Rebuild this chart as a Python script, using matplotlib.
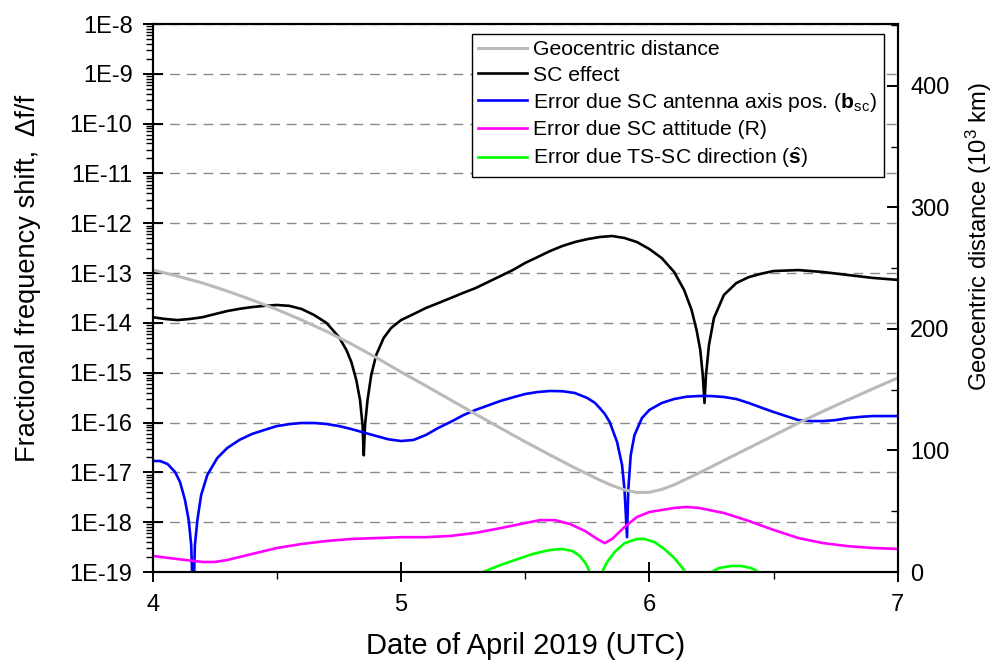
import numpy as np
import matplotlib
matplotlib.use('Agg')
import matplotlib.pyplot as plt
from matplotlib.ticker import FixedLocator, NullFormatter, FuncFormatter
from matplotlib.lines import Line2D

plt.rcParams['font.family'] = ['Liberation Sans', 'DejaVu Sans']
plt.rcParams['mathtext.fontset'] = 'custom'
plt.rcParams['mathtext.rm'] = 'Liberation Sans'
plt.rcParams['mathtext.it'] = 'Liberation Sans:italic'
plt.rcParams['mathtext.bf'] = 'Liberation Sans:bold'

# ---------------- data ----------------
# Geocentric distance (10^3 km), right axis
dist_x = [4.0, 4.1, 4.2, 4.3, 4.4, 4.5, 4.6, 4.7, 4.8, 4.9, 5.0, 5.1, 5.2, 5.3, 5.4,
          5.5, 5.6, 5.7, 5.8, 5.85, 5.9, 5.95, 6.0, 6.05, 6.1, 6.2, 6.3, 6.4, 6.5,
          6.6, 6.7, 6.8, 6.9, 7.0]
dist_y = [248.6, 243.5, 237.9, 231.2, 223.9, 216.0, 207.4, 198.0, 187.7, 176.5, 164.6,
          153.2, 141.6, 130.0, 118.5, 107.2, 96.3, 85.7, 75.7, 71.2, 67.6, 65.4, 65.6,
          68.0, 71.8, 81.5, 91.8, 102.0, 112.3, 122.6, 132.3, 141.6, 150.8, 159.7]

# SC effect
sc_x = [4.00, 4.05, 4.10, 4.15, 4.20, 4.25, 4.30, 4.35, 4.40, 4.45, 4.50, 4.55, 4.60,
        4.65, 4.70, 4.75, 4.78, 4.80, 4.82, 4.835, 4.845, 4.85, 4.855, 4.865, 4.88,
        4.90, 4.93, 4.96, 5.00, 5.05, 5.10, 5.15, 5.20, 5.25, 5.30, 5.35, 5.40, 5.45,
        5.50, 5.55, 5.60, 5.65, 5.70, 5.75, 5.80, 5.85, 5.90, 5.95, 6.00, 6.05, 6.10,
        6.14, 6.17, 6.19, 6.205, 6.215, 6.222, 6.228, 6.24, 6.26, 6.30, 6.35, 6.40,
        6.45, 6.50, 6.60, 6.70, 6.80, 6.90, 7.00]
sc_y = [1.3e-14, 1.2e-14, 1.14e-14, 1.2e-14, 1.3e-14, 1.5e-14, 1.73e-14, 1.92e-14,
        2.08e-14, 2.2e-14, 2.29e-14, 2.2e-14, 1.9e-14, 1.44e-14, 1.0e-14, 5.2e-15,
        2.86e-15, 1.64e-15, 7.1e-16, 2.8e-16, 8.9e-17, 2.2e-17, 8.9e-17, 2.8e-16,
        9.0e-16, 2.27e-15, 4.98e-15, 7.9e-15, 1.14e-14, 1.5e-14, 1.99e-14, 2.5e-14,
        3.16e-14, 4.0e-14, 5.0e-14, 6.6e-14, 8.7e-14, 1.15e-13, 1.6e-13, 2.1e-13,
        2.77e-13, 3.5e-13, 4.2e-13, 4.8e-13, 5.3e-13, 5.55e-13, 5.06e-13, 4.2e-13,
        3.04e-13, 2.0e-13, 1.05e-13, 4.57e-14, 1.82e-14, 7.2e-15, 2.86e-15, 9.0e-16,
        2.47e-16, 9.0e-16, 3.6e-15, 1.25e-14, 3.63e-14, 6.3e-14, 8.3e-14, 9.7e-14,
        1.1e-13, 1.15e-13, 1.05e-13, 9.15e-14, 8.0e-14, 7.3e-14]

# Error due SC antenna axis position
ant_x = [4.00, 4.03, 4.06, 4.09, 4.11, 4.13, 4.145, 4.155, 4.163, 4.17, 4.18, 4.195,
         4.22, 4.26, 4.30, 4.35, 4.40, 4.45, 4.50, 4.55, 4.60, 4.65, 4.70, 4.75, 4.80,
         4.85, 4.90, 4.95, 5.00, 5.05, 5.10, 5.15, 5.20, 5.25, 5.30, 5.35, 5.40, 5.45,
         5.50, 5.55, 5.60, 5.65, 5.70, 5.75, 5.78, 5.80, 5.82, 5.84, 5.87, 5.89, 5.90,
         5.91, 5.915, 5.925, 5.94, 5.97, 6.00, 6.05, 6.10, 6.15, 6.20, 6.25, 6.30, 6.35,
         6.40, 6.45, 6.50, 6.55, 6.60, 6.65, 6.70, 6.75, 6.80, 6.85, 6.90, 7.00]
ant_y = [1.69e-17, 1.69e-17, 1.47e-17, 1.02e-17, 6.4e-18, 2.79e-18, 1.1e-18, 3.5e-19,
         2e-20, 3.5e-19, 1.1e-18, 3.5e-18, 8.9e-18, 1.94e-17, 3.08e-17, 4.5e-17, 5.9e-17,
         7.1e-17, 8.5e-17, 9.3e-17, 9.8e-17, 9.8e-17, 9.35e-17, 8.5e-17, 7.4e-17,
         6.3e-17, 5.37e-17, 4.6e-17, 4.26e-17, 4.47e-17, 5.62e-17, 7.8e-17, 1.03e-16,
         1.4e-16, 1.79e-16, 2.2e-16, 2.71e-16, 3.2e-16, 3.74e-16, 4.1e-16, 4.3e-16,
         4.25e-16, 3.92e-16, 3.11e-16, 2.5e-16, 1.96e-16, 1.5e-16, 1.03e-16, 4.07e-17,
         1.41e-17, 4.43e-18, 5.0e-19, 4.4e-18, 2.23e-17, 5.6e-17, 1.23e-16, 1.79e-16,
         2.47e-16, 2.97e-16, 3.3e-16, 3.41e-16, 3.4e-16, 3.26e-16, 2.97e-16, 2.47e-16,
         2.0e-16, 1.63e-16, 1.35e-16, 1.12e-16, 1.07e-16, 1.07e-16, 1.12e-16, 1.23e-16,
         1.3e-16, 1.35e-16, 1.35e-16]

# Error due SC attitude
att_x = [4.00, 4.10, 4.20, 4.25, 4.30, 4.40, 4.50, 4.60, 4.70, 4.80, 4.90, 5.00, 5.10,
         5.20, 5.30, 5.40, 5.50, 5.56, 5.62, 5.68, 5.74, 5.79, 5.82, 5.85, 5.90, 5.95,
         6.00, 6.10, 6.15, 6.20, 6.30, 6.40, 6.50, 6.60, 6.70, 6.80, 6.90, 7.00]
att_y = [2.1e-19, 1.82e-19, 1.59e-19, 1.59e-19, 1.74e-19, 2.3e-19, 3.03e-19, 3.65e-19,
         4.19e-19, 4.6e-19, 4.8e-19, 5.0e-19, 5.0e-19, 5.3e-19, 6.1e-19, 7.6e-19,
         9.6e-19, 1.1e-18, 1.1e-18, 9.2e-19, 6.7e-19, 4.6e-19, 3.8e-19, 4.6e-19, 8.0e-19,
         1.27e-18, 1.6e-18, 1.93e-18, 2.02e-18, 1.93e-18, 1.53e-18, 1.06e-18, 7.0e-19,
         4.8e-19, 3.8e-19, 3.3e-19, 3.03e-19, 2.9e-19]

# Error due TS-SC direction (nan separates the three humps)
dir_x = [5.30, 5.33, 5.40, 5.47, 5.53, 5.60, 5.65, 5.69, 5.72, 5.745, 5.76, 5.77,
         5.785,
         5.80, 5.81, 5.83, 5.86, 5.90, 5.95, 5.98, 6.02, 6.06, 6.10, 6.13, 6.145, 6.16,
         6.20,
         6.23, 6.25, 6.28, 6.33, 6.37, 6.41, 6.44, 6.46]
dir_y = [7e-20, 1.0e-19, 1.38e-19, 1.82e-19, 2.3e-19, 2.77e-19, 2.9e-19, 2.64e-19,
         2.1e-19, 1.45e-19, 1.0e-19, 5e-20,
         np.nan,
         5e-20, 1.0e-19, 1.59e-19, 2.52e-19, 3.8e-19, 4.6e-19, 4.6e-19, 4.0e-19, 2.9e-19,
         1.91e-19, 1.26e-19, 1.0e-19, 5e-20,
         np.nan,
         7e-20, 1.0e-19, 1.2e-19, 1.32e-19, 1.32e-19, 1.2e-19, 1.0e-19, 7e-20]

left_ticks = [1e-19, 1e-18, 1e-17, 1e-16, 1e-15, 1e-14, 1e-13, 1e-12, 1e-11, 1e-10,
              1e-9, 1e-8]
x_ticks = [4, 5, 6, 7]
right_ticks = [0, 100, 200, 300, 400]

labels = ['Geocentric distance',
          'SC effect',
          r'Error due SC antenna axis pos. ($\mathbf{b}_{\mathrm{sc}}$)',
          'Error due SC attitude (R)',
          r'Error due TS-SC direction ($\hat{\mathbf{s}}$)']
colors = ['#bababa', '#000000', '#0000ff', '#ff00ff', '#00ff00']

# ---------------- figure ----------------
fig = plt.figure(figsize=(9.94, 6.61), dpi=100)
ax = fig.add_axes([0.15362, 0.13464, 0.74950, 0.82905])
ax2 = ax.twinx()

ax.set_yscale('log')
ax.set_ylim(1e-19, 1e-8)
ax.set_xlim(4, 7)
ax2.set_ylim(0, 451)

lw = 1.9
ax.plot(sc_x, sc_y, color=colors[1], lw=lw, zorder=3)
ax.plot(ant_x, ant_y, color=colors[2], lw=lw, zorder=3)
ax.plot(att_x, att_y, color=colors[3], lw=lw, zorder=3)
ax.plot(dir_x, dir_y, color=colors[4], lw=lw, zorder=3)
ax2.plot(dist_x, dist_y, color=colors[0], lw=2.2, zorder=2)

# grid
ax.yaxis.set_major_locator(FixedLocator(left_ticks))
minor = [m * t for t in left_ticks[:-1] for m in range(2, 10)]
ax.yaxis.set_minor_locator(FixedLocator(minor))
ax.yaxis.set_minor_formatter(NullFormatter())
ax.yaxis.set_major_formatter(FuncFormatter(lambda v, p: '1E%d' % round(np.log10(v))))
ax.grid(axis='y', which='major', color='#8a8a8a', lw=1.0, ls=(0, (7, 5)), zorder=0)
ax.set_axisbelow(True)

ax.xaxis.set_major_locator(FixedLocator(x_ticks))
ax.xaxis.set_minor_locator(FixedLocator([4.5, 5.5, 6.5]))
ax.xaxis.set_major_formatter(FuncFormatter(lambda v, p: '%d' % v))

ax2.yaxis.set_major_locator(FixedLocator(right_ticks))
ax2.yaxis.set_minor_locator(FixedLocator([50, 150, 250, 350, 450]))

for a in (ax, ax2):
    for s in a.spines.values():
        s.set_linewidth(1.5)
        s.set_color('black')

ax.tick_params(axis='both', which='major', direction='inout', length=15, width=1.4,
               labelsize=17, top=False, right=False, color='black')
ax.tick_params(axis='y', which='major', pad=7)
ax.tick_params(axis='x', which='major', pad=8)
ax.tick_params(axis='both', which='minor', direction='out', length=5, width=1.0,
               top=False, right=False)
ax2.tick_params(axis='y', which='major', direction='in', length=8, width=1.4,
                labelsize=17, pad=9)
ax2.tick_params(axis='y', which='minor', direction='in', length=5, width=1.0)

# axis labels
ax.set_xlabel('Date of April 2019 (UTC)', fontsize=21)
ax.xaxis.set_label_coords(0.5, -0.135)
ax.xaxis.label.set_va('center')
ax.set_ylabel('Fractional frequency shift,  Δf/f', fontsize=19.6)
ax.yaxis.set_label_coords(-0.167, 0.5356)
ax.yaxis.label.set_va('center')
ax2.set_ylabel('Geocentric distance (10$^3$ km)', fontsize=17.2)
ax2.yaxis.set_label_coords(1.109, 0.612)
ax2.yaxis.label.set_va('center')
ax2.yaxis.label.set_ha('center')

# legend
handles = [Line2D([], [], color=c, lw=(2.2 if i == 0 else lw)) for i, c in enumerate(colors)]
leg = ax2.legend(handles, labels, loc='upper right', bbox_to_anchor=(0.981, 0.982),
                 fontsize=15.2, frameon=True, fancybox=False, edgecolor='black',
                 framealpha=1, handlelength=2.3, handletextpad=0.3, labelspacing=0.3,
                 borderpad=0.3, borderaxespad=0)
leg.get_frame().set_linewidth(1.0)

fig.savefig('out.png', dpi=100)
